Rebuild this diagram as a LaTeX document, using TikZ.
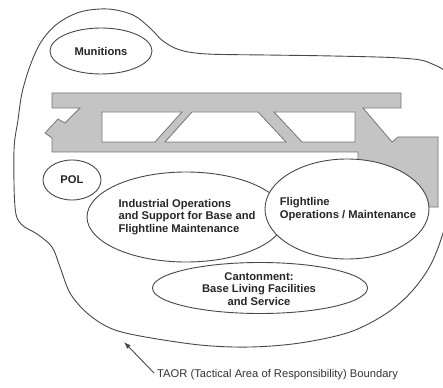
\documentclass[tikz,border=0pt]{standalone}
\usepackage{fontspec}
\setmainfont{Liberation Sans}
\usetikzlibrary{arrows.meta,shapes.geometric}

\definecolor{apron}{RGB}{196,196,196}
\definecolor{apronline}{RGB}{118,118,118}
\definecolor{inkline}{RGB}{72,72,72}
\tikzset{
  zone/.style={ellipse,draw=inkline,line width=0.9pt,fill=white,inner sep=0pt},
  zonetext/.style={font=\bfseries\fontsize{11.2}{12.5}\selectfont,align=left,inner sep=0pt,text=black!85},
  cut/.style={fill=white,draw=apronline,line width=0.8pt},
}

\begin{document}
\begin{tikzpicture}[x=1pt,y=-1pt]
\useasboundingbox (0,0) rectangle (443,387);
% TAOR boundary
\begin{scope}
\clip (0,0) rectangle (443,387);
\draw[inkline,line width=0.9pt] plot[smooth cycle,tension=0.55] coordinates {
  (14,150) (18,120) (22,93) (30,66) (41,42) (57,24) (80,12) (108,9)
  (133,15) (150,28) (163,41) (180,50) (207,54) (267,55) (333,56)
  (400,58) (430,63) (452,82) (460,150) (448,215) (433,260) (413,290)
  (387,313) (350,332) (300,343) (250,347) (200,345) (140,336) (110,328)
  (87,313) (70,293) (60,267) (52,247) (37,234) (21,224) (15,207)};
\end{scope}

% runway and apron
\filldraw[fill=apron,draw=apronline,line width=0.8pt] (52,93) -- (401,93) -- (401,108)
  -- (363,108) -- (392,142) -- (398,137) -- (438,137) -- (438,207) -- (358,207)
  -- (358,152) -- (52,152) -- (52,138) -- (45,133) -- (58,119) -- (65,123)
  -- (80,108) -- (52,108) -- cycle;
\filldraw[cut] (102,112) -- (182,112) -- (155,142) -- (102,142) -- cycle;
\filldraw[cut] (192,112) -- (258,112) -- (286,142) -- (165,142) -- cycle;
\filldraw[cut] (274,112) -- (355,112) -- (355,142) -- (302,142) -- cycle;

% areas
\node[zone,minimum width=102pt,minimum height=46pt] (munitions) at (101,51) {};
\node[zonetext] at (munitions.center) {Munitions};

\node[zone,minimum width=58pt,minimum height=40pt] (pol) at (72,180) {};
\node[zonetext] at (pol.center) {POL};

\node[zone,minimum width=198pt,minimum height=90pt] (industrial) at (186,217) {};
\node[zonetext] at (187,217) {Industrial Operations\\and Support for Base and\\Flightline Maintenance};

\node[zone,minimum width=164pt,minimum height=100pt] (flightline) at (347,209) {};
\node[zonetext] at (348,209) {Flightline\\Operations / Maintenance};

\node[zone,minimum width=215pt,minimum height=51pt] (cantonment) at (260,288) {};
\node[zonetext,align=center] at (259,289) {Cantonment:\\Base Living Facilities\\and Service};

% boundary label
\coordinate (tip) at (124,342);
\node[anchor=west,inner sep=0pt,font=\fontsize{11.2}{12.5}\selectfont,text=black!80] (taor) at (157,375)
  {TAOR (Tactical Area of Responsibility) Boundary};
\draw[inkline,line width=0.9pt,-{Latex[length=7pt,width=5pt]}] ([xshift=-3pt,yshift=2pt]taor.west) -- (tip);
\end{tikzpicture}
\end{document}
